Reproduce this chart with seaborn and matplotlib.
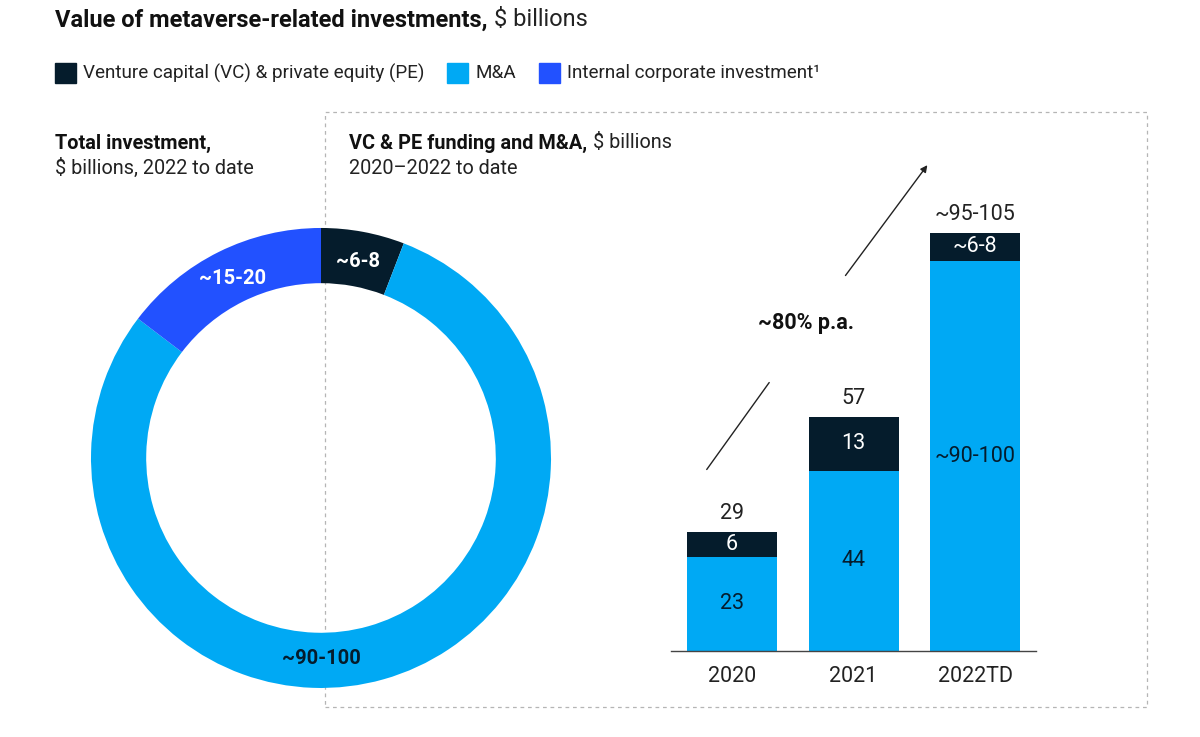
import matplotlib

matplotlib.use("Agg")
import matplotlib.pyplot as plt
import numpy as np
import pandas as pd
import seaborn as sns
from matplotlib.patches import Rectangle

# colours
DEEP = "#051c2c"
MA_BLUE = "#00a9f4"
CORP_BLUE = "#2251ff"

# data
years = ["2020", "2021", "2022TD"]
vc_pe = [6, 13, 7]
m_and_a = [23, 44, 95]
total_labels = ["29", "57", "~95-105"]
vc_labels = ["6", "13", "~6-8"]
ma_labels = ["23", "44", "~90-100"]

donut_names = ["Venture capital (VC) & private equity (PE)", "M&A", "Internal corporate investment\u00b9"]
donut_values = [7, 95, 17.5]
donut_labels = ["~6-8", "~90-100", "~15-20"]
donut_colors = [DEEP, MA_BLUE, CORP_BLUE]

sns.set_theme(style="white")
plt.rcParams["font.family"] = ["Roboto", "DejaVu Sans"]
plt.rcParams["text.parse_math"] = False

fig = plt.figure(figsize=(12, 7.37), dpi=100)


def text_pair(x, y, bold, regular, size):
    """bold text followed by regular text on the same line"""
    t = fig.text(x, y, bold, fontsize=size, fontweight="bold", color="#111111", va="center")
    fig.canvas.draw()
    x1 = t.get_window_extent().x1 / fig.bbox.width
    if regular:
        fig.text(x1 + 0.005, y, regular, fontsize=size, color="#222222", va="center")


# header
text_pair(0.046, 0.973, "Value of metaverse-related investments,", "$ billions", 17)

# legend
lx = 0.046
for name, col in zip(donut_names, donut_colors):
    fig.add_artist(Rectangle((lx, 0.887), 0.0175, 0.028, color=col, transform=fig.transFigure))
    t = fig.text(lx + 0.0233, 0.901, name, fontsize=13.6, color="#222222", va="center")
    fig.canvas.draw()
    lx = t.get_window_extent().x1 / fig.bbox.width + 0.019

# section headers
text_pair(0.046, 0.806, "Total investment,", "", 14.3)
fig.text(0.046, 0.772, "$ billions, 2022 to date", fontsize=14.3, color="#222222", va="center")
text_pair(0.291, 0.806, "VC & PE funding and M&A,", "$ billions", 14.3)
fig.text(0.291, 0.772, "2020\u20132022 to date", fontsize=14.3, color="#222222", va="center")

# dashed frame around the bar section
fig.add_artist(Rectangle((0.2708, 0.0407), 0.685, 0.8073, fill=False, ec="#b5b5b5",
                         lw=0.9, ls=(0, (3, 3)), transform=fig.transFigure, zorder=0))

# donut
ax_d = fig.add_axes([0.06625, 0.0509, 0.4025, 0.6554])
wedges, _ = ax_d.pie(donut_values, colors=donut_colors, startangle=90, counterclock=False,
                     radius=1.0, wedgeprops=dict(width=0.24, linewidth=0))
ax_d.set_xlim(-1.05, 1.05)
ax_d.set_ylim(-1.05, 1.05)
ax_d.set_aspect("equal")
for w, lbl, col in zip(wedges, donut_labels, donut_colors):
    ang = np.deg2rad((w.theta1 + w.theta2) / 2)
    txt_col = "white"
    if col == MA_BLUE:
        ang = np.deg2rad(-90)
        txt_col = DEEP
    ax_d.text(0.87 * np.cos(ang), 0.87 * np.sin(ang), lbl, ha="center", va="center",
              fontsize=14.5, fontweight="bold", color=txt_col)

# stacked bars
df = pd.DataFrame({"year": years, "vc": vc_pe, "ma": m_and_a})
df["total"] = df["vc"] + df["ma"]

ax_b = fig.add_axes([0.5592, 0.1167, 0.3042, 0.64])
sns.barplot(data=df, x="year", y="total", color=DEEP, saturation=1, width=0.74,
            linewidth=0, ax=ax_b)
sns.barplot(data=df, x="year", y="ma", color=MA_BLUE, saturation=1, width=0.74,
            linewidth=0, ax=ax_b)
ax_b.set_xlim(-0.5, 2.5)
ax_b.set_ylim(0, 115)
ax_b.set_xlabel("")
ax_b.set_ylabel("")
ax_b.set_yticks([])
sns.despine(ax=ax_b, left=True)
ax_b.spines["bottom"].set_color("#444444")
ax_b.spines["bottom"].set_linewidth(1.0)
ax_b.tick_params(axis="x", length=0, pad=11, labelsize=15.5, labelcolor="#222222")
ax_b.patch.set_alpha(0)

for i, row in df.iterrows():
    ax_b.text(i, row["total"] + 4.5, total_labels[i], ha="center", va="center",
              fontsize=15.5, color="#222222")
    ax_b.text(i, row["ma"] + row["vc"] / 2, vc_labels[i], ha="center", va="center",
              fontsize=15.5, color="white")
    ax_b.text(i, row["ma"] / 2, ma_labels[i], ha="center", va="center",
              fontsize=15.5, color=DEEP)

# growth arrow
ax_b.annotate("", xy=(0.32, 66), xytext=(-0.22, 43.7),
              arrowprops=dict(arrowstyle="-", color="#222222", lw=1.0), annotation_clip=False)
ax_b.annotate("", xy=(1.62, 119), xytext=(0.92, 91),
              arrowprops=dict(arrowstyle="-|>", color="#222222", lw=1.0, mutation_scale=10),
              annotation_clip=False)
ax_b.text(0.61, 80, "~80% p.a.", ha="center", va="center", fontsize=15.5,
          fontweight="bold", color="#111111")

fig.savefig("out.png", dpi=100, facecolor="white")
